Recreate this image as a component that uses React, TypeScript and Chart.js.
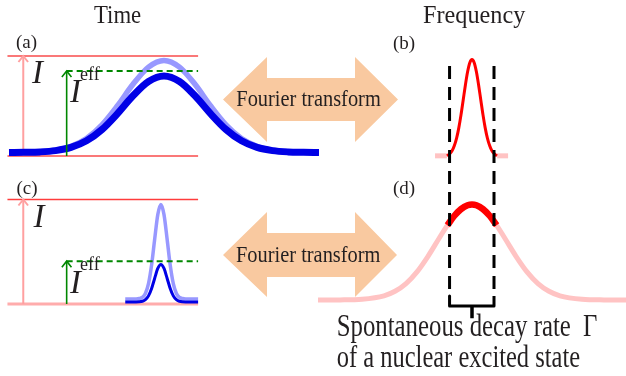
import React, { useEffect, useRef } from "react";
import { Chart, registerables } from "chart.js";
Chart.register(...registerables);

const W = 626;
const H = 376;

// ---------- Panel (a): long pulse in time ----------
const timeA = [0, 0.5, 1, 1.5, 2, 2.5, 3, 3.5, 4, 4.5, 5, 5.5, 6, 6.5, 7, 7.5, 8, 8.5, 9, 9.5, 10];
const incidentA = [0.035, 0.037, 0.043, 0.058, 0.097, 0.176, 0.312, 0.503, 0.717, 0.889, 0.955, 0.889, 0.717, 0.503, 0.312, 0.176, 0.097, 0.058, 0.043, 0.037, 0.035];
const effectiveA = [0.035, 0.037, 0.041, 0.054, 0.086, 0.152, 0.265, 0.424, 0.602, 0.745, 0.8, 0.745, 0.602, 0.424, 0.265, 0.152, 0.086, 0.054, 0.041, 0.037, 0.035];
const levelsA = { I: 1, Ieff: 0.85 };

// ---------- Panel (c): short pulse in time ----------
const timeC = [3.75, 4.1, 4.2, 4.3, 4.4, 4.5, 4.6, 4.7, 4.8, 4.9, 5.0, 5.1, 5.2, 5.3, 5.4, 5.5, 5.6, 5.7, 6.1];
const incidentC = [0.048, 0.049, 0.052, 0.063, 0.101, 0.195, 0.373, 0.622, 0.855, 0.952, 0.855, 0.622, 0.373, 0.195, 0.101, 0.063, 0.052, 0.049, 0.048];
const effectiveC = [0.02, 0.02, 0.021, 0.026, 0.041, 0.078, 0.149, 0.247, 0.34, 0.378, 0.34, 0.247, 0.149, 0.078, 0.041, 0.026, 0.021, 0.02, 0.02];
const levelsC = { I: 1, Ieff: 0.41 };

// time-panel guide lines (t units)
const levelLineT = [-0.05, 6.1];
const arrowIT = 0.46;
const arrowEffT = 1.86;

// ---------- Panel (b): narrow spectrum ----------
const freqB = [-0.57, -0.5, -0.45, -0.4, -0.35, -0.3, -0.25, -0.2, -0.15, -0.1, -0.05, 0, 0.05, 0.1, 0.15, 0.2, 0.25, 0.3, 0.35, 0.4, 0.45, 0.5, 0.57];
const spectrumB = [0.012, 0.035, 0.066, 0.117, 0.193, 0.299, 0.432, 0.585, 0.739, 0.874, 0.967, 1, 0.967, 0.874, 0.739, 0.585, 0.432, 0.299, 0.193, 0.117, 0.066, 0.035, 0.012];
const tailLeftB = [-0.84, -0.57];
const tailRightB = [0.57, 0.82];
const tailValueB = 0.012;

// ---------- Panel (d): broad spectrum ----------
const freqD = [-3.5, -3, -2.5, -2, -1.75, -1.5, -1.25, -1, -0.75, -0.5, -0.25, 0, 0.25, 0.5, 0.75, 1, 1.25, 1.5, 1.75, 2, 2.5, 3, 3.5];
const spectrumD = [0, 0.001, 0.008, 0.044, 0.091, 0.172, 0.295, 0.458, 0.644, 0.823, 0.952, 1, 0.952, 0.823, 0.644, 0.458, 0.295, 0.172, 0.091, 0.044, 0.008, 0.001, 0];
const freqInWindowD = [-0.56, -0.4, -0.25, -0.1, 0, 0.1, 0.25, 0.4, 0.56];
const spectrumInWindowD = [0.783, 0.882, 0.952, 0.992, 1, 0.992, 0.952, 0.882, 0.783];

// Γ window (frequency units), extent in panel-(d) intensity units
const gammaEdges = [-0.51, 0.5];
const gammaTop = 2.45;
const gammaArmTop = 0.042;
const braceLevel = -0.063;
const braceTip = -0.19;

// ---------- Layout (pixel-like layout axis) ----------
const arrowUpX = [223, 267, 267, 355, 355, 398, 355, 355, 267, 267];
const arrowUpY = [99.5, 57, 78, 78, 57, 99.5, 142, 121, 121, 142];
const arrowLowX = [223, 267, 267, 355, 355, 397, 355, 355, 267, 267];
const arrowLowY = [255, 212, 233, 233, 212, 255, 297, 277, 277, 297];

const labelTexts = ["Time", "Frequency", "(a)", "(b)", "(c)", "(d)", "I", "I", "eff", "I", "I", "eff", "Fourier transform", "Fourier transform", "Spontaneous decay rate", "Γ", "of a nuclear excited state"];
const labelX = [94, 423, 16, 393, 16.5, 393, 32, 70, 80, 33.5, 70, 80, 236.3, 236, 336.7, 583, 336.7];
const labelY = [23, 23, 47.5, 48.5, 193.5, 193.5, 83, 102, 79.5, 226.5, 292.5, 270, 105.7, 262, 336, 336, 367];
const labelSize = [26, 25, 19, 19, 19, 19, 33, 33, 18, 33, 33, 18, 24, 24, 31, 31, 31];
const labelScaleX = [0.875, 0.97, 1, 1, 1, 1, 1, 1, 1, 1, 1, 1, 0.85, 0.85, 0.8, 0.8, 0.79];
const labelItalic = [false, false, false, false, false, false, true, true, false, true, true, false, false, false, false, false, false];

// ---------- helpers ----------
const zip = (xs: number[], ys: number[]) => xs.map((x, i) => ({ x, y: ys[i] }));
const xAxis = (originPx: number, k: number) => ({ type: "linear" as const, display: false, bounds: "data" as const, min: -originPx / k, max: (W - originPx) / k });
const yAxis = (zeroPx: number, k: number) => ({ type: "linear" as const, display: false, bounds: "data" as const, min: (zeroPx - H) / k, max: zeroPx / k });

const FONT = '"Liberation Serif", "Times New Roman", serif';
const TEXT_COLOR = "#231f20";
const PEACH = "#f9c9a0";

function line(data: any[], xAxisID: string, yAxisID: string, color: string, width: number, order: number, extra: any = {}) {
  return {
    data,
    xAxisID,
    yAxisID,
    borderColor: color,
    backgroundColor: color,
    borderWidth: width,
    pointRadius: 0,
    pointHoverRadius: 0,
    fill: false,
    tension: 0,
    order,
    ...extra,
  };
}
const curve = { cubicInterpolationMode: "monotone" };

function arrowHead(x: number, top: number, dx: number, dy: number) {
  return [
    { x: x - dx, y: top - dy },
    { x, y: top },
    { x: x + dx, y: top - dy },
  ];
}

const decorPlugin = {
  id: "decor",
  beforeDatasetsDraw(chart: any) {
    const ctx = chart.ctx;
    const xs = chart.scales.xL;
    const ys = chart.scales.yL;
    const poly = (px: number[], py: number[]) => {
      ctx.beginPath();
      px.forEach((v, i) => {
        const X = xs.getPixelForValue(v);
        const Y = ys.getPixelForValue(py[i]);
        if (i === 0) ctx.moveTo(X, Y);
        else ctx.lineTo(X, Y);
      });
      ctx.closePath();
      ctx.fill();
    };
    ctx.save();
    ctx.fillStyle = PEACH;
    poly(arrowUpX, arrowUpY);
    poly(arrowLowX, arrowLowY);
    ctx.restore();
  },
  afterDatasetsDraw(chart: any) {
    const ctx = chart.ctx;
    const xs = chart.scales.xL;
    const ys = chart.scales.yL;
    ctx.save();
    ctx.fillStyle = TEXT_COLOR;
    ctx.textAlign = "left";
    ctx.textBaseline = "alphabetic";
    labelTexts.forEach((t, i) => {
      ctx.save();
      ctx.font = `${labelItalic[i] ? "italic " : ""}${labelSize[i]}px ${FONT}`;
      ctx.translate(xs.getPixelForValue(labelX[i]), ys.getPixelForValue(labelY[i]));
      ctx.scale(labelScaleX[i], 1);
      ctx.fillText(t, 0, 0);
      ctx.restore();
    });
    ctx.restore();
  },
};

export default function App() {
  const ref = useRef<HTMLCanvasElement | null>(null);

  useEffect(() => {
    if (!ref.current) return;
    const redLine = "rgb(250,120,120)";
    const pinkArrow = "rgb(255,160,160)";
    const green = "rgb(0,135,0)";
    const lightBlue = "rgb(152,152,255)";
    const darkBlue = "rgb(0,0,230)";
    const red = "rgb(255,0,0)";
    const pinkSpec = "rgb(255,195,195)";

    const hA = 6 / 100;
    const hC = 6 / 104.5;
    const dT = 4.8 / 31;

    const datasets: any[] = [
      // panel (a)
      line(zip(levelLineT, [levelsA.I, levelsA.I]), "xT", "yA", redLine, 2, 50),
      line(zip(levelLineT, [0, 0]), "xT", "yA", redLine, 2, 50),
      line(zip([arrowIT, arrowIT], [0, levelsA.I]), "xT", "yA", pinkArrow, 2, 45),
      line(arrowHead(arrowIT, levelsA.I, dT, hA), "xT", "yA", pinkArrow, 2, 45),
      line(zip(timeA, incidentA), "xT", "yA", lightBlue, 5.5, 30, curve),
      line(zip(timeA, effectiveA), "xT", "yA", darkBlue, 7, 20, curve),
      line(zip([arrowEffT, levelLineT[1]], [levelsA.Ieff, levelsA.Ieff]), "xT", "yA", green, 2, 10, { borderDash: [6, 4] }),
      line(zip([arrowEffT, arrowEffT], [0, levelsA.Ieff]), "xT", "yA", green, 1.6, 10),
      line(arrowHead(arrowEffT, levelsA.Ieff, dT, hA), "xT", "yA", green, 1.6, 10),

      // panel (c)
      line(zip(levelLineT, [levelsC.I, levelsC.I]), "xT", "yC", "rgb(255,60,60)", 1.6, 50),
      line(zip(levelLineT, [0, 0]), "xT", "yC", "rgb(255,172,172)", 3, 50),
      line(zip([arrowIT, arrowIT], [0, levelsC.I]), "xT", "yC", pinkArrow, 2, 45),
      line(arrowHead(arrowIT, levelsC.I, dT, hC), "xT", "yC", pinkArrow, 2, 45),
      line(zip(timeC, incidentC), "xT", "yC", lightBlue, 3.5, 30, curve),
      line(zip(timeC, effectiveC), "xT", "yC", darkBlue, 3, 20, curve),
      line(zip([arrowEffT, levelLineT[1]], [levelsC.Ieff, levelsC.Ieff]), "xT", "yC", green, 2, 10, { borderDash: [6, 4] }),
      line(zip([arrowEffT, arrowEffT], [0, levelsC.Ieff]), "xT", "yC", green, 1.6, 10),
      line(arrowHead(arrowEffT, levelsC.Ieff, dT, hC), "xT", "yC", green, 1.6, 10),

      // panel (b)
      line(zip(tailLeftB, [tailValueB, tailValueB]), "xW", "yB", pinkSpec, 5, 40),
      line(zip(tailRightB, [tailValueB, tailValueB]), "xW", "yB", pinkSpec, 5, 40),
      line(zip(freqB, spectrumB), "xW", "yB", red, 3, 30, curve),

      // panel (d)
      line(zip(freqD, spectrumD), "xW", "yD", pinkSpec, 5, 40, curve),
      line(zip(freqInWindowD, spectrumInWindowD), "xW", "yD", red, 6.5, 30, curve),

      // Γ window
      line(zip([gammaEdges[0], gammaEdges[0]], [gammaTop, gammaArmTop]), "xW", "yD", "#000", 3, 5, { borderDash: [13, 8] }),
      line(zip([gammaEdges[1], gammaEdges[1]], [gammaTop, gammaArmTop]), "xW", "yD", "#000", 3, 5, { borderDash: [13, 8] }),
      line(
        zip([gammaEdges[0], gammaEdges[0], gammaEdges[1], gammaEdges[1]], [gammaArmTop, braceLevel, braceLevel, gammaArmTop]),
        "xW", "yD", "#000", 3, 5, { borderJoinStyle: "round" }
      ),
      line(zip([0, 0], [braceLevel, braceTip]), "xW", "yD", "#000", 3.5, 5),
    ];

    const chart = new Chart(ref.current, {
      type: "line",
      data: { datasets },
      options: {
        animation: false,
        responsive: false,
        maintainAspectRatio: false,
        devicePixelRatio: 1,
        layout: { padding: 0 },
        events: [],
        plugins: { legend: { display: false }, tooltip: { enabled: false }, title: { display: false } },
        scales: {
          xT: xAxis(9, 31),
          xW: xAxis(472, 44),
          yA: yAxis(156, 100),
          yC: yAxis(304, 104.5),
          yB: yAxis(157, 97.5),
          yD: yAxis(300, 95.5),
          xL: { type: "linear", display: false, bounds: "data", min: 0, max: W },
          yL: { type: "linear", display: false, bounds: "data", min: 0, max: H, reverse: true },
        },
      } as any,
      plugins: [decorPlugin],
    });
    return () => chart.destroy();
  }, []);

  return (
    <div style={{ position: "absolute", left: 0, top: 0, width: W, height: H, background: "#fff" }}>
      <canvas ref={ref} width={W} height={H} style={{ display: "block" }} />
    </div>
  );
}
